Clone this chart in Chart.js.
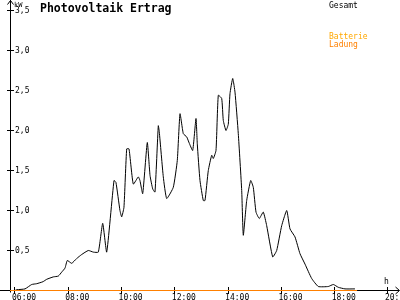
<!DOCTYPE html>
<html>
<head>
<meta charset="utf-8">
<script src="https://cdn.jsdelivr.net/npm/chart.js@4"></script>
<style>
html,body{margin:0;padding:0;background:#fff;}
#wrap{position:relative;width:400px;height:300px;}
</style>
</head>
<body>
<div id="wrap"><canvas id="c" width="400" height="300"></canvas></div>
<script>
// ---- data (hours of day, kW) ----
const times = [6.0, 6.075, 6.375, 6.627, 6.815, 7.051, 7.19, 7.438, 7.625, 7.753, 7.877, 7.963, 8.128, 8.316, 8.504, 8.752, 8.939, 9.127, 9.292, 9.442, 9.716, 9.79, 9.94, 10.005, 10.09, 10.193, 10.28, 10.44, 10.628, 10.69, 10.794, 10.966, 11.068, 11.169, 11.255, 11.379, 11.417, 11.567, 11.694, 11.942, 12.092, 12.194, 12.318, 12.445, 12.543, 12.67, 12.794, 12.843, 12.944, 13.068, 13.132, 13.256, 13.384, 13.444, 13.545, 13.631, 13.759, 13.819, 13.92, 14.007, 14.07, 14.172, 14.258, 14.382, 14.51, 14.57, 14.697, 14.847, 14.945, 15.047, 15.17, 15.32, 15.448, 15.673, 15.823, 16.011, 16.2, 16.323, 16.51, 16.698, 16.886, 17.137, 17.385, 17.76, 17.95, 18.136, 18.387, 18.76];
const gesamt = [0.0, 0.01, 0.02, 0.075, 0.085, 0.11, 0.14, 0.17, 0.18, 0.23, 0.28, 0.375, 0.34, 0.40, 0.45, 0.50, 0.48, 0.48, 0.84, 0.48, 1.375, 1.35, 1.0, 0.92, 1.04, 1.77, 1.77, 1.33, 1.42, 1.375, 1.21, 1.85, 1.44, 1.27, 1.23, 2.06, 1.98, 1.42, 1.15, 1.29, 1.625, 2.21, 1.96, 1.92, 1.84, 1.75, 2.15, 1.83, 1.375, 1.125, 1.125, 1.5, 1.69, 1.65, 1.75, 2.44, 2.40, 2.125, 2.0, 2.08, 2.46, 2.65, 2.48, 1.96, 1.25, 0.69, 1.125, 1.375, 1.29, 0.98, 0.90, 0.98, 0.81, 0.42, 0.50, 0.81, 1.0, 0.77, 0.67, 0.46, 0.33, 0.15, 0.05, 0.05, 0.075, 0.04, 0.02, 0.02];
const ladungTimes = [5.81, 18.84];
const ladung = [0, 0];
const xTickHours = [6, 8, 10, 12, 14, 16, 18, 20];
const yTicks = [0.5, 1.0, 1.5, 2.0, 2.5, 3.0, 3.5];
const titleText = "Photovoltaik Ertrag";
const legendGesamt = "Gesamt";
const legendBatterie = "Batterie";
const legendLadung = "Ladung";
const unitY = "kW";
const unitX = "h";

const MONO = "'DejaVu Sans Mono', 'Liberation Mono', monospace";

const axesPlugin = {
  id: 'axesPlugin',
  beforeDatasetsDraw(chart) {
    const ctx = chart.ctx;
    const xs = chart.scales.x, ys = chart.scales.y;
    const x0 = Math.round(xs.getPixelForValue(xs.min)) + 0.5;
    const y0 = ys.getPixelForValue(0);
    ctx.save();
    ctx.strokeStyle = '#000';
    ctx.lineWidth = 1;
    ctx.beginPath();
    // y axis with arrow
    ctx.moveTo(x0, 0);
    ctx.lineTo(x0, y0 + 2);
    ctx.moveTo(x0 - 3, 4.5); ctx.lineTo(x0, 0.5); ctx.lineTo(x0 + 3, 4.5);
    // x axis with arrow
    ctx.moveTo(0, y0);
    ctx.lineTo(399, y0);
    ctx.moveTo(395.5, y0 - 3.5); ctx.lineTo(399.5, y0); ctx.lineTo(395.5, y0 + 3.5);
    // tick marks crossing the axes
    yTicks.forEach(v => {
      const p = Math.round(ys.getPixelForValue(v) - 0.5) + 0.5;
      ctx.moveTo(x0 - 3.5, p); ctx.lineTo(x0 + 3.5, p);
    });
    xTickHours.forEach(v => {
      const p = Math.round(xs.getPixelForValue(v) - 0.5) + 0.5;
      ctx.moveTo(p, y0 - 3.5); ctx.lineTo(p, y0 + 3.5);
    });
    ctx.stroke();
    ctx.restore();
  },
  afterDraw(chart) {
    const ctx = chart.ctx;
    ctx.save();
    ctx.textBaseline = 'alphabetic';
    ctx.textAlign = 'left';
    ctx.fillStyle = '#000';
    ctx.font = 'bold 11.5px ' + MONO;
    ctx.fillText(titleText, 40, 12);
    ctx.font = '7px ' + MONO;
    ctx.fillText(unitY, 14, 7);
    ctx.font = '8px ' + MONO;
    ctx.fillText(unitX, 384, 284);
    ctx.fillText(legendGesamt, 329, 8);
    ctx.fillStyle = '#FFA800';
    ctx.fillText(legendBatterie, 329, 39);
    ctx.fillStyle = '#FF8000';
    ctx.fillText(legendLadung, 329, 47);
    ctx.restore();
  }
};

const fmtHour = v => String(v).padStart(2, '0') + ':00';
const PX_PER_H = 26.64;
const PX_PER_KW = 80;

new Chart(document.getElementById('c'), {
  type: 'line',
  data: {
    datasets: [
      {
        label: legendLadung,
        data: ladungTimes.map((t, i) => ({x: t, y: ladung[i]})),
        borderColor: '#FF8000',
        borderWidth: 1,
        pointRadius: 0,
        tension: 0
      },
      {
        label: legendGesamt,
        data: times.map((t, i) => ({x: t, y: gesamt[i]})),
        borderColor: '#000',
        borderWidth: 1,
        pointRadius: 0,
        tension: 0.15
      }
    ]
  },
  options: {
    responsive: false,
    animation: false,
    devicePixelRatio: 1,
    layout: {padding: 0},
    plugins: {legend: {display: false}, title: {display: false}, tooltip: {enabled: false}},
    scales: {
      x: {
        type: 'linear',
        min: 6 - 5 / PX_PER_H,
        max: 6 - 5 / PX_PER_H + 390 / PX_PER_H,
        grid: {display: false, drawTicks: false},
        border: {display: false},
        afterBuildTicks: s => { s.ticks = xTickHours.map(v => ({value: v})); },
        afterFit: s => { s.height = 9; s.paddingLeft = 0; s.paddingRight = 0; },
        ticks: {
          autoSkip: false,
          maxRotation: 0,
          align: 'start',
          labelOffset: -3,
          padding: 2,
          color: '#000',
          font: {family: MONO, size: 8},
          callback: v => fmtHour(v)
        }
      },
      y: {
        type: 'linear',
        min: -0.5 / PX_PER_KW,
        max: -0.5 / PX_PER_KW + 291 / PX_PER_KW,
        grid: {display: false, drawTicks: false},
        border: {display: false},
        afterBuildTicks: s => { s.ticks = yTicks.map(v => ({value: v})); },
        afterFit: s => { s.width = 10; s.paddingTop = 0; s.paddingBottom = 0; },
        ticks: {
          mirror: true,
          padding: 5,
          color: '#000',
          font: {family: MONO, size: 8},
          callback: v => v.toFixed(1).replace('.', ',')
        }
      }
    }
  },
  plugins: [axesPlugin]
});
</script>
</body>
</html>
